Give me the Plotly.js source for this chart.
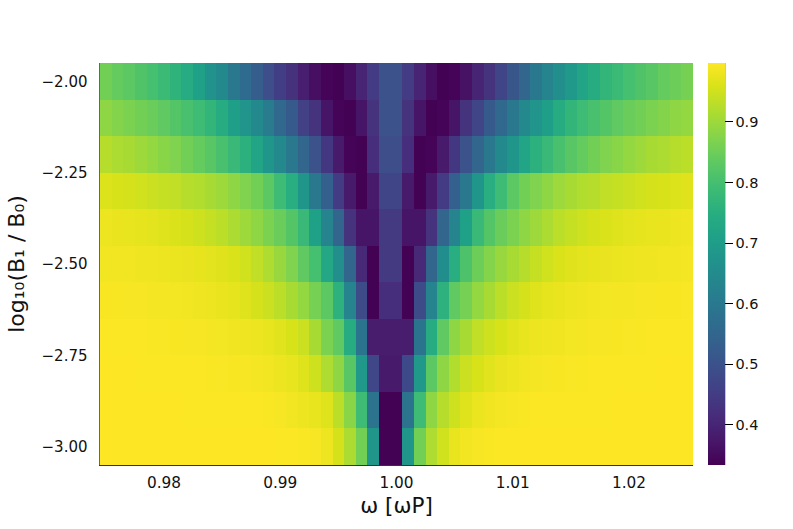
<!DOCTYPE html>
<html><head><meta charset="utf-8">
<script src="https://cdn.plot.ly/plotly-3.0.1.min.js"></script>
<style>html,body{margin:0;padding:0;background:#fff}</style></head>
<body><div id="chart" style="width:793px;height:529px"></div>
<script>
const omega=[0.975,0.976,0.977,0.978,0.979,0.980,0.981,0.982,0.983,0.984,0.985,0.986,0.987,0.988,0.989,0.990,0.991,0.992,0.993,0.994,0.995,0.996,0.997,0.998,0.999,1.000,1.001,1.002,1.003,1.004,1.005,1.006,1.007,1.008,1.009,1.010,1.011,1.012,1.013,1.014,1.015,1.016,1.017,1.018,1.019,1.020,1.021,1.022,1.023,1.024,1.025];
const logB=[-2.0,-2.1,-2.2,-2.3,-2.4,-2.5,-2.6,-2.7,-2.8,-2.9,-3.0];
const r20=[.855,.84,.83,.815,.80,.785,.765,.74,.71,.67,.645,.60,.565,.53,.49,.455,.425,.39,.36,.34,.336,.36,.40,.45,.50,.50,.45,.40,.36,.336,.34,.365,.40,.43,.47,.51,.55,.60,.63,.66,.69,.72,.745,.77,.785,.80,.815,.825,.84,.85,.86];
const r21=[.885,.875,.865,.855,.845,.835,.82,.805,.79,.77,.745,.705,.675,.645,.61,.56,.52,.46,.43,.37,.34,.336,.37,.43,.50,.50,.43,.37,.336,.34,.37,.43,.47,.52,.56,.60,.645,.675,.705,.745,.77,.79,.805,.82,.835,.845,.855,.865,.875,.885,.89];
const r22=[.925,.915,.91,.90,.89,.88,.87,.855,.84,.825,.805,.78,.755,.72,.68,.645,.60,.55,.50,.44,.38,.34,.336,.42,.49,.49,.42,.336,.34,.38,.44,.50,.55,.60,.645,.68,.72,.755,.78,.805,.825,.84,.855,.87,.88,.89,.90,.91,.915,.925,.93];
const r23=[.962,.958,.954,.95,.945,.94,.935,.925,.92,.91,.90,.885,.87,.855,.83,.79,.75,.68,.60,.535,.45,.38,.336,.38,.47,.47,.38,.336,.38,.45,.535,.60,.68,.75,.79,.83,.855,.87,.885,.90,.91,.92,.925,.935,.94,.945,.95,.954,.958,.962,.966];
const r24=[.98,.977,.975,.972,.97,.965,.96,.955,.948,.94,.93,.915,.90,.885,.865,.845,.82,.78,.71,.63,.55,.43,.37,.37,.445,.445,.37,.37,.43,.55,.63,.71,.78,.82,.845,.865,.885,.90,.915,.93,.94,.948,.955,.96,.965,.97,.972,.975,.977,.98,.982];
const r25=[.985,.985,.985,.983,.982,.98,.978,.976,.974,.97,.966,.96,.95,.935,.917,.895,.87,.835,.80,.73,.66,.55,.41,.336,.445,.445,.336,.41,.55,.655,.75,.81,.85,.875,.895,.91,.925,.94,.95,.96,.966,.97,.974,.976,.978,.98,.982,.983,.985,.985,.987];
const r26=[.992,.992,.991,.99,.989,.988,.986,.985,.983,.98,.977,.972,.965,.955,.945,.93,.91,.89,.86,.83,.76,.63,.485,.336,.42,.42,.336,.485,.63,.76,.835,.86,.89,.91,.93,.945,.955,.965,.972,.977,.98,.983,.985,.986,.988,.989,.99,.991,.992,.992,.993];
const r27=[.996,.996,.995,.995,.994,.993,.992,.991,.99,.988,.986,.984,.982,.979,.975,.968,.958,.945,.91,.865,.835,.745,.59,.385,.385,.385,.385,.59,.745,.835,.885,.91,.935,.948,.958,.968,.975,.979,.982,.984,.986,.988,.99,.991,.992,.993,.994,.995,.995,.996,.996];
const r28=[.997,.997,.997,.996,.996,.996,.995,.995,.995,.994,.993,.992,.99,.988,.985,.98,.975,.965,.948,.917,.885,.825,.69,.475,.38,.38,.48,.69,.83,.885,.92,.945,.958,.968,.976,.98,.985,.988,.99,.992,.993,.994,.995,.995,.995,.996,.996,.996,.997,.997,.997];
const r29=[.997,.997,.997,.997,.997,.997,.997,.996,.996,.996,.996,.996,.995,.995,.994,.99,.985,.98,.975,.965,.93,.88,.79,.585,.336,.336,.585,.79,.885,.925,.948,.965,.978,.984,.988,.99,.994,.995,.995,.996,.996,.996,.996,.996,.997,.997,.997,.997,.997,.997,.997];
const r30=[.997,.997,.997,.997,.997,.997,.997,.997,.997,.997,.997,.997,.997,.997,.997,.996,.995,.994,.99,.98,.955,.915,.855,.68,.336,.336,.68,.855,.917,.95,.975,.985,.99,.994,.995,.996,.997,.997,.997,.997,.997,.997,.997,.997,.997,.997,.997,.997,.997,.997,.997];
const fracValues=[r20,r21,r22,r23,r24,r25,r26,r27,r28,r29,r30];
const xTicks=[0.98,0.99,1.00,1.01,1.02];
const yTicks=[-2.0,-2.25,-2.5,-2.75,-3.0];
const cbTicks=[0.4,0.5,0.6,0.7,0.8,0.9];
const font='"DejaVu Sans",sans-serif';
Plotly.newPlot('chart',[{
  type:'heatmap',x:omega,y:logB,z:fracValues,colorscale:'Viridis',zmin:0.334,zmax:0.997,zsmooth:false,
  hoverinfo:'skip',
  colorbar:{x:1.026,xanchor:'left',xpad:0,y:0,yanchor:'bottom',ypad:0,len:1,lenmode:'fraction',thickness:16.5,thicknessmode:'pixels',
    outlinewidth:0,borderwidth:0,tickmode:'array',tickvals:cbTicks,ticktext:['0.4','0.5','0.6','0.7','0.8','0.9'],
    ticks:'outside',ticklen:8,tickwidth:1,tickcolor:'#000',tickfont:{family:font,size:14.5,color:'#111'}}
}],{
  width:793,height:529,paper_bgcolor:'#fff',plot_bgcolor:'#fff',showlegend:false,
  margin:{l:100,r:100,t:62.5,b:64,pad:0,autoexpand:false},
  xaxis:{range:[0.9745,1.0255],tickmode:'array',tickvals:xTicks,tickformat:'.2f',showgrid:false,zeroline:false,
    showline:true,linecolor:'#333',linewidth:1,ticks:'outside',ticklen:4,tickcolor:'rgba(0,0,0,0)',
    tickfont:{family:font,size:15.3,color:'#111'},title:{text:'ω [ωP]',font:{family:font,size:21.5,color:'#111'},standoff:6}},
  yaxis:{range:[-3.05,-1.95],tickmode:'array',tickvals:yTicks,tickformat:'.2f',showgrid:false,zeroline:false,
    showline:true,linecolor:'#666',linewidth:1.5,ticks:'outside',ticklen:8,tickcolor:'rgba(0,0,0,0)',
    tickfont:{family:font,size:15,color:'#111'},title:{text:'log₁₀(B₁ / B₀)',font:{family:font,size:22,color:'#111'},standoff:11}},
  shapes:[{type:'line',xref:'paper',yref:'paper',x0:1.0535,x1:1.0535,y0:0,y1:1,line:{color:'#000',width:1}}]
},{displayModeBar:false,staticPlot:true});
</script></body></html>
